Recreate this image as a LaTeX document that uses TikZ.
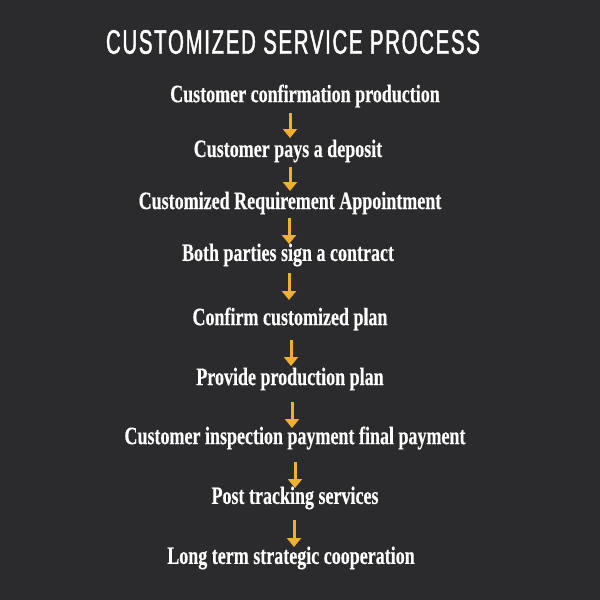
\documentclass[tikz,border=0pt]{standalone}
\usepackage{fontspec}
\setmainfont{Liberation Serif}
\newfontfamily\stepfont[FakeStretch=0.72,FakeBold=0.4]{Liberation Serif Bold}
\newfontfamily\titlefont[FakeStretch=0.6,FakeBold=1.2,LetterSpace=5]{Liberation Sans}
\usetikzlibrary{arrows.meta}
\definecolor{bg}{HTML}{2B2B2D}
\definecolor{gold}{HTML}{EFB02E}
\tikzset{
  stepbox/.style={text=white, font=\stepfont\fontsize{12.5}{14}\selectfont, inner sep=0pt, anchor=center},
  arr/.style={draw=gold, line width=1.5pt, -{Triangle[width=7pt,length=4.5pt]}}
}
\begin{document}
\begin{tikzpicture}[x=0.5pt,y=-0.5pt]
\fill[bg] (0,0) rectangle (600,600);
\useasboundingbox (0,0) rectangle (600,600);
\node[text=white, font=\titlefont\fontsize{17}{18}\selectfont, inner sep=0pt] (title) at (293,42) {CUSTOMIZED SERVICE PROCESS};
\node[stepbox] (s1) at (305,96) {Customer confirmation production};
\node[stepbox] (s2) at (288,151) {Customer pays a deposit};
\node[stepbox] (s3) at (290,203) {Customized Requirement Appointment};
\node[stepbox] (s4) at (288,255) {Both parties sign a contract};
\node[stepbox] (s5) at (290,319) {Confirm customized plan};
\node[stepbox] (s6) at (290,379) {Provide production plan};
\node[stepbox] (s7) at (295,438) {Customer inspection payment final payment};
\node[stepbox] (s8) at (295,498) {Post tracking services};
\node[stepbox] (s9) at (291,558) {Long term strategic cooperation};
\coordinate (a1s) at (290,113); \coordinate (a1e) at (290,138);
\coordinate (a2s) at (290,167); \coordinate (a2e) at (290,191);
\coordinate (a3s) at (289,218); \coordinate (a3e) at (289,244);
\coordinate (a4s) at (289,273); \coordinate (a4e) at (289,300);
\coordinate (a5s) at (291,340); \coordinate (a5e) at (291,366);
\coordinate (a6s) at (292,402); \coordinate (a6e) at (292,428);
\coordinate (a7s) at (295,462); \coordinate (a7e) at (295,488);
\coordinate (a8s) at (294,520); \coordinate (a8e) at (294,547);
\foreach \i in {1,...,8} \draw[arr] (a\i s) -- (a\i e);
\end{tikzpicture}
\end{document}
